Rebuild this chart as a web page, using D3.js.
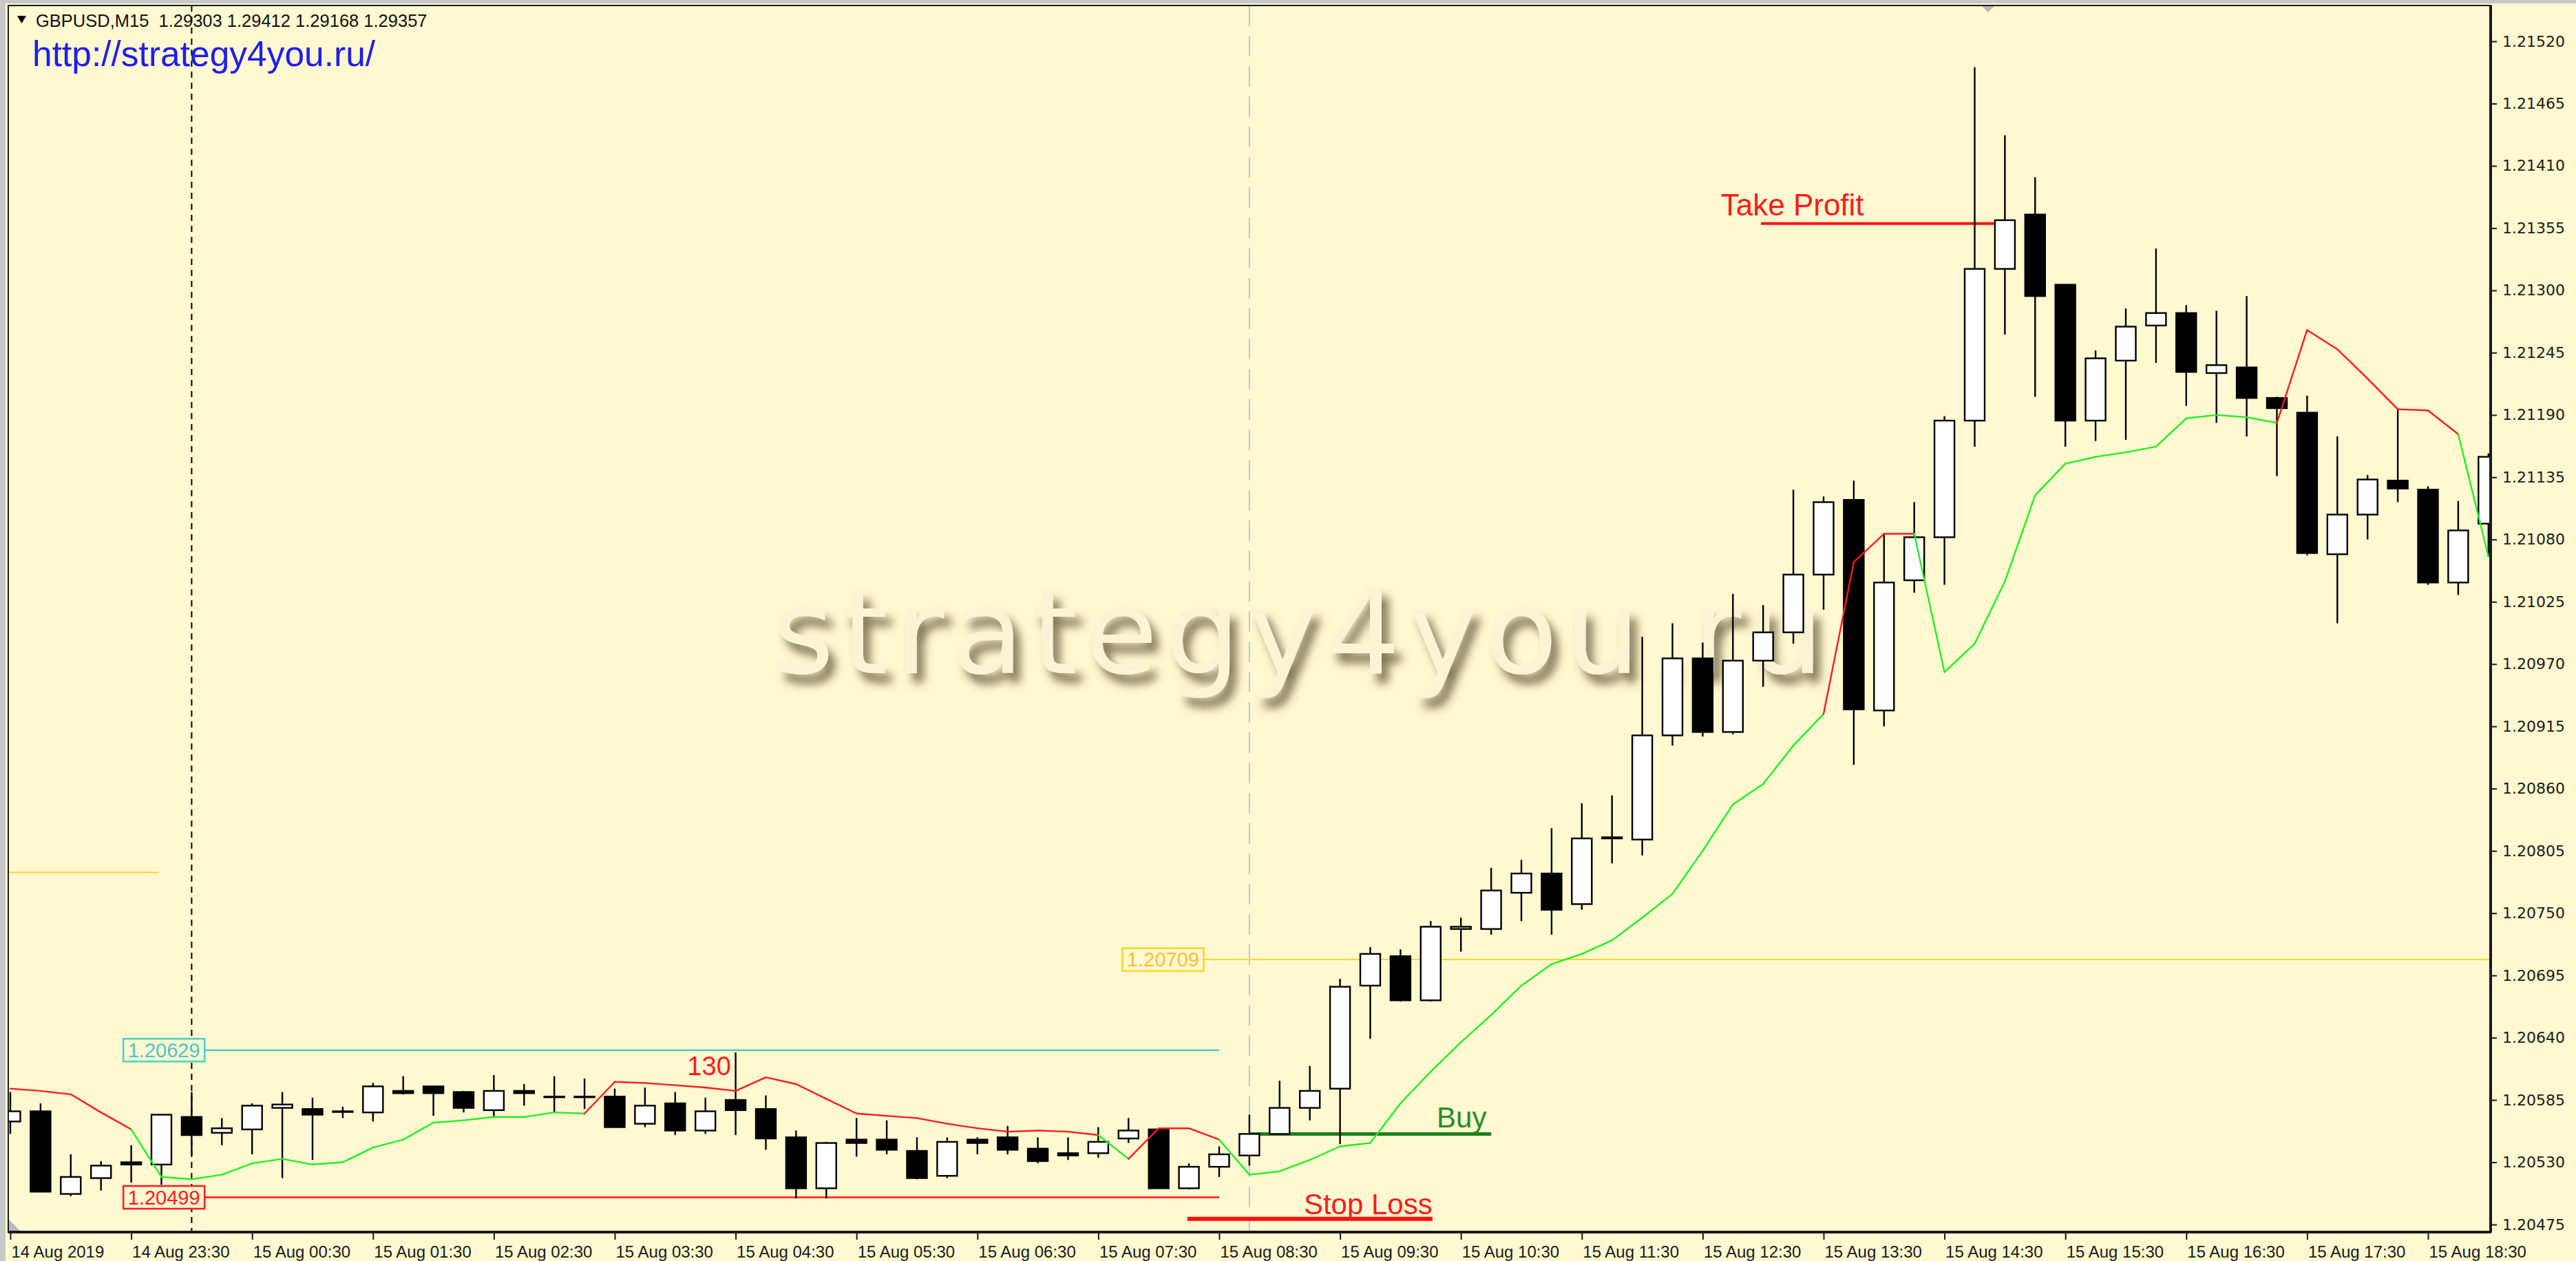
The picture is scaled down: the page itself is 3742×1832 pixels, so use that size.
<!DOCTYPE html>
<html><head><meta charset="utf-8">
<script src="https://cdn.jsdelivr.net/npm/d3@7"></script>
<style>html,body{margin:0;padding:0;background:#fff8d0;overflow:hidden}</style>
</head><body>
<svg id="c" width="3742" height="1832" xmlns="http://www.w3.org/2000/svg"></svg>
<script>
// ---------- DATA ----------
const symbolHeader = "GBPUSD,M15  1.29303 1.29412 1.29168 1.29357";
const siteLink = "http://strategy4you.ru/";
const watermark = "strategy4you.ru";

const openP = [1.20566,1.20575,1.20502,1.20516,1.20530,1.20528,1.20570,1.20556,1.20559,1.20578,
 1.20577,1.20575,1.20574,1.20593,1.20597,1.20592,1.20576,1.20593,1.20588,1.20588,
 1.20588,1.20564,1.20582,1.20558,1.20585,1.20577,1.20552,1.20507,1.20550,1.20550,
 1.20540,1.20518,1.20550,1.20552,1.20542,1.20538,1.20538,1.20551,1.20559,1.20507,
 1.20526,1.20536,1.20555,1.20578,1.20595,1.20686,1.20712,1.20673,1.20736,1.20736,
 1.20768,1.20785,1.20758,1.20816,1.20815,1.20907,1.20975,1.20910,1.20973,1.20998,
 1.21049,1.21115,1.20929,1.21044,1.21082,1.21185,1.21319,1.21367,1.21305,1.21185,
 1.21238,1.21269,1.21280,1.21227,1.21232,1.21205,1.21192,1.21067,1.21102,1.21132,
 1.21124,1.21042,1.21094];
const highP = [1.20592,1.20582,1.20537,1.20531,1.20545,1.20572,1.20592,1.20569,1.20582,1.20592,
 1.20587,1.20579,1.20600,1.20606,1.20597,1.20593,1.20607,1.20599,1.20606,1.20604,
 1.20595,1.20596,1.20592,1.20587,1.20627,1.20589,1.20558,1.20548,1.20569,1.20567,
 1.20552,1.20552,1.20552,1.20562,1.20552,1.20552,1.20561,1.20569,1.20560,1.20529,
 1.20544,1.20572,1.20602,1.20615,1.20692,1.20720,1.20718,1.20743,1.20746,1.20790,
 1.20797,1.20825,1.20847,1.20854,1.20994,1.21006,1.20989,1.21032,1.21022,1.21124,
 1.21118,1.21132,1.21085,1.21113,1.21189,1.21497,1.21437,1.21400,1.21305,1.21247,
 1.21284,1.21337,1.21287,1.21282,1.21295,1.21206,1.21207,1.21171,1.21137,1.21196,
 1.21127,1.21114,1.21156];
const lowP = [1.20555,1.20504,1.20500,1.20505,1.20512,1.20510,1.20536,1.20545,1.20537,1.20516,
 1.20532,1.20569,1.20566,1.20590,1.20571,1.20574,1.20570,1.20580,1.20574,1.20577,
 1.20561,1.20561,1.20554,1.20555,1.20554,1.20541,1.20498,1.20498,1.20535,1.20537,
 1.20515,1.20516,1.20537,1.20537,1.20529,1.20532,1.20534,1.20547,1.20507,1.20506,
 1.20517,1.20527,1.20554,1.20567,1.20546,1.20639,1.20672,1.20672,1.20716,1.20731,
 1.20743,1.20731,1.20753,1.20794,1.20801,1.20898,1.20906,1.20908,1.20950,1.20988,
 1.21018,1.20881,1.20915,1.21033,1.21040,1.21162,1.21261,1.21206,1.21162,1.21167,
 1.21168,1.21236,1.21198,1.21183,1.21171,1.21136,1.21066,1.21006,1.21080,1.21113,
 1.21040,1.21031,1.21065];
const closeP = [1.20575,1.20504,1.20517,1.20527,1.20528,1.20572,1.20554,1.20560,1.20580,1.20581,
 1.20572,1.20575,1.20597,1.20591,1.20591,1.20578,1.20593,1.20591,1.20588,1.20588,
 1.20561,1.20580,1.20558,1.20575,1.20576,1.20551,1.20507,1.20547,1.20547,1.20541,
 1.20516,1.20548,1.20547,1.20541,1.20531,1.20536,1.20548,1.20558,1.20507,1.20526,
 1.20537,1.20555,1.20578,1.20593,1.20685,1.20714,1.20673,1.20738,1.20738,1.20770,
 1.20785,1.20753,1.20816,1.20817,1.20907,1.20975,1.20910,1.20973,1.20998,1.21049,
 1.21113,1.20930,1.21042,1.21082,1.21185,1.21319,1.21362,1.21295,1.21185,1.21240,
 1.21268,1.21280,1.21228,1.21234,1.21205,1.21196,1.21068,1.21102,1.21133,1.21125,
 1.21042,1.21088,1.21153];

// trailing indicator line and its trend (1 = up / green, -1 = down / red)
const trendLine = [1.20595,1.20593,1.20590,1.20574,1.20559,1.20517,1.20515,1.20519,1.20529,1.20533,
 1.20528,1.20530,1.20543,1.20550,1.20565,1.20567,1.20570,1.20570,1.20574,1.20573,
 1.20601,1.20600,1.20598,1.20596,1.20593,1.20605,1.20599,1.20586,1.20573,1.20571,
 1.20569,1.20564,1.20560,1.20557,1.20558,1.20557,1.20554,1.20533,1.20560,1.20560,
 1.20550,1.20519,1.20522,1.20532,1.20544,1.20547,1.20582,1.20610,1.20636,1.20660,
 1.20686,1.20705,1.20714,1.20726,1.20746,1.20767,1.20805,1.20846,1.20864,1.20898,
 1.20926,1.21060,1.21085,1.21085,1.20963,1.20988,1.21043,1.21119,1.21147,1.21153,
 1.21157,1.21162,1.21187,1.21190,1.21188,1.21183,1.21265,1.21248,1.21222,1.21195,
 1.21194,1.21173,1.21065];
const trendDir = [-1,-1,-1,-1,-1,1,1,1,1,1, 1,1,1,1,1,1,1,1,1,1,
 -1,-1,-1,-1,-1,-1,-1,-1,-1,-1, -1,-1,-1,-1,-1,-1,-1,1,-1,-1,
 -1,1,1,1,1,1,1,1,1,1, 1,1,1,1,1,1,1,1,1,1,
 1,-1,-1,-1,1,1,1,1,1,1, 1,1,1,1,1,1,-1,-1,-1,-1,
 -1,-1,1];

const xTickLabels = ["14 Aug 2019","14 Aug 23:30","15 Aug 00:30","15 Aug 01:30","15 Aug 02:30",
 "15 Aug 03:30","15 Aug 04:30","15 Aug 05:30","15 Aug 06:30","15 Aug 07:30","15 Aug 08:30",
 "15 Aug 09:30","15 Aug 10:30","15 Aug 11:30","15 Aug 12:30","15 Aug 13:30","15 Aug 14:30",
 "15 Aug 15:30","15 Aug 16:30","15 Aug 17:30","15 Aug 18:30"];
const xTickBars = [0,4,8,12,16,20,24,28,32,36,40,44,48,52,56,60,64,68,72,76,80];
const yTickLabels = ["1.20475","1.20530","1.20585","1.20640","1.20695","1.20750","1.20805","1.20860",
 "1.20915","1.20970","1.21025","1.21080","1.21135","1.21190","1.21245","1.21300","1.21355",
 "1.21410","1.21465","1.21520"];

// chart objects: price levels with anchors in bar units
const levelPrices = [1.20629, 1.20499, 1.20709, 1.20786, 1.20555, 1.20480, 1.21359];
const levelNames  = ["cyan", "red", "gold", "goldShort", "buy", "stop", "tp"];
const levelFrom   = [3.74, 3.74, 36.8, -0.1, 41, 38.95, 57.93];
const levelTo     = [40, 40, 83, 4.92, 49.0, 47.06, 66.0];
const noteTexts  = ["Take Profit", "Buy", "Stop Loss", "130"];
const noteBars   = [56.6, 47.2, 42.8, 22.4];
const notePrices = [1.21366, 1.20561, 1.20484, 1.20607];
const vLineBars = [6, 41];

// ---------- LAYOUT ----------
const W = 3742, H = 1832;
const plot = {l: 12, t: 8, r: 3618, b: 1790};
const svg = d3.select("#c");
const bg = "#fff8d0";

const x = d3.scaleLinear().domain([0, 82]).range([15, 3614.8]);
const y = d3.scaleLinear().domain([1.20475, 1.21520]).range([1779, 60]);

const defs = svg.append("defs");
defs.append("clipPath").attr("id","plotClip").append("rect")
  .attr("x", plot.l).attr("y", plot.t).attr("width", plot.r-plot.l).attr("height", plot.b-plot.t);
const f = defs.append("filter").attr("id","wm").attr("x","-5%").attr("y","-30%").attr("width","115%").attr("height","170%");
f.append("feGaussianBlur").attr("in","SourceAlpha").attr("stdDeviation",7).attr("result","b");
f.append("feOffset").attr("in","b").attr("dx",10).attr("dy",14).attr("result","o");
f.append("feFlood").attr("flood-color","#5e5638").attr("flood-opacity",0.8);
f.append("feComposite").attr("in2","o").attr("operator","in").attr("result","s");
const fm = f.append("feMerge");
fm.append("feMergeNode").attr("in","s");
fm.append("feMergeNode").attr("in","SourceGraphic");

svg.append("rect").attr("width",W).attr("height",H).attr("fill",bg);
// window frame
svg.append("rect").attr("x",0).attr("y",0).attr("width",W).attr("height",5).attr("fill","#c8c8c8");
svg.append("rect").attr("x",0).attr("y",0).attr("width",8).attr("height",H).attr("fill","#c8c8c8");

const g = svg.append("g").attr("clip-path","url(#plotClip)");

// watermark
g.append("text").attr("x", 1122).attr("y", 978)
  .attr("font-family","DejaVu Sans, Verdana, sans-serif").attr("font-size",172)
  .attr("textLength",1527).attr("lengthAdjust","spacing")
  .attr("fill","#fbf4d4").attr("filter","url(#wm)").text(watermark);

// vertical lines
g.append("line").attr("x1",x(vLineBars[0])).attr("x2",x(vLineBars[0])).attr("y1",plot.t).attr("y2",plot.b)
  .attr("stroke","#000").attr("stroke-width",2).attr("stroke-dasharray","9,7");
g.append("line").attr("x1",x(vLineBars[1])).attr("x2",x(vLineBars[1])).attr("y1",plot.t).attr("y2",plot.b)
  .attr("stroke","#c8c8c8").attr("stroke-width",2).attr("stroke-dasharray","30,14");

// levels
const lvlStyle = {
  cyan:{c:"#48d0c8", w:2.5, box:true, tc:"#48c8c0"},
  red:{c:"#ff1a1a", w:2.5, box:true, tc:"#ff1a1a"},
  gold:{c:"#ffd42a", w:2, box:true, tc:"#f5c030"},
  goldShort:{c:"#ffd42a", w:2, box:false},
  buy:{c:"#1a7f1a", w:5, box:false},
  stop:{c:"#ff1010", w:6, box:false},
  tp:{c:"#ff1010", w:4, box:false}
};
levelPrices.forEach((p,i)=>{
  const s = lvlStyle[levelNames[i]];
  const yy = y(p);
  let x0 = x(levelFrom[i]);
  const x1 = Math.min(x(levelTo[i]), plot.r);
  if (s.box) {
    const bw = 118, bh = 33;
    svg.append("rect").attr("x",x0).attr("y",yy-bh/2).attr("width",bw).attr("height",bh)
      .attr("fill",bg).attr("stroke",s.c).attr("stroke-width",2.5);
    svg.append("text").attr("x",x0+bw/2).attr("y",yy+10).attr("text-anchor","middle")
      .attr("font-family","Liberation Sans, Arial, sans-serif").attr("font-size",29)
      .attr("fill",s.tc).text(p.toFixed(5));
    x0 += bw;
  }
  g.append("line").attr("x1",x0).attr("x2",x1).attr("y1",yy).attr("y2",yy)
    .attr("stroke",s.c).attr("stroke-width",s.w);
});

// candles
const bars = d3.range(openP.length).map(i=>({i, o:openP[i], h:highP[i], l:lowP[i], c:closeP[i]}));
const bodyW = 29;
const cg = g.append("g");
cg.selectAll("line.wick").data(bars).join("line").attr("class","wick")
  .attr("x1",d=>x(d.i)).attr("x2",d=>x(d.i)).attr("y1",d=>y(d.h)).attr("y2",d=>y(d.l))
  .attr("stroke","#000").attr("stroke-width",2.4);
cg.selectAll("rect.body").data(bars).join("rect").attr("class","body")
  .attr("x",d=>x(d.i)-bodyW/2).attr("width",bodyW)
  .attr("y",d=>y(Math.max(d.o,d.c)))
  .attr("height",d=>Math.max(1, y(Math.min(d.o,d.c))-y(Math.max(d.o,d.c))))
  .attr("fill",d=>d.c>=d.o?"#ffffff":"#000000")
  .attr("stroke","#000").attr("stroke-width",2.4);

// trend indicator line
const lg = g.append("g");
for (let i=1;i<trendLine.length;i++){
  lg.append("line").attr("x1",x(i-1)).attr("y1",y(trendLine[i-1])).attr("x2",x(i)).attr("y2",y(trendLine[i]))
    .attr("stroke", trendDir[i]>0 ? "#22ee22" : "#ff1a1a").attr("stroke-width",2.4).attr("stroke-linecap","round");
}

// notes
const noteColors = ["#ff1a1a","#2a8a2a","#ff1a1a","#ff1a1a"];
const noteSizes = [44, 42, 42, 38];
noteTexts.forEach((t,i)=>{
  svg.append("text").attr("x",x(noteBars[i])).attr("y",y(notePrices[i]))
    .attr("font-family","Liberation Sans, Arial, sans-serif").attr("font-size",noteSizes[i])
    .attr("fill",noteColors[i]).text(t);
});

// small markers
svg.append("path").attr("d",`M${plot.l+1},${plot.b-18} L${plot.l+1},${plot.b-1} L${plot.l+18},${plot.b-1} Z`).attr("fill","#b8b8c0");
svg.append("path").attr("d",`M2878,${plot.t} L2898,${plot.t} L2888,${plot.t+10} Z`).attr("fill","#b8b8c0");

// plot border
svg.append("rect").attr("x",plot.l).attr("y",plot.t).attr("width",plot.r-plot.l).attr("height",plot.b-plot.t)
  .attr("fill","none").attr("stroke","#1a1a1a").attr("stroke-width",2);

// axes
const yAxis = d3.axisRight(y).tickValues(yTickLabels.map(Number)).tickFormat((d,i)=>yTickLabels[i]).tickSize(9).tickPadding(8);
const ya = svg.append("g").attr("transform",`translate(${plot.r},0)`).call(yAxis);
ya.select(".domain").attr("stroke","#1a1a1a").attr("stroke-width",4).attr("d",`M0,${plot.t}V${plot.b+1}`);
ya.selectAll(".tick line").attr("stroke","#1a1a1a").attr("stroke-width",2);
ya.selectAll(".tick text").attr("font-family","DejaVu Sans, Verdana, sans-serif").attr("font-size",22).attr("fill","#1a1a1a");

const xAxis = d3.axisBottom(x).tickValues(xTickBars).tickFormat((d,i)=>xTickLabels[i]).tickSize(11).tickPadding(4);
const xa = svg.append("g").attr("transform",`translate(0,${plot.b})`).call(xAxis);
xa.select(".domain").attr("stroke","#1a1a1a").attr("stroke-width",4).attr("d",`M${plot.l},0H${plot.r}`);
xa.selectAll(".tick line").attr("stroke","#1a1a1a").attr("stroke-width",2);
xa.selectAll(".tick text").attr("font-family","Liberation Sans, Arial, sans-serif").attr("font-size",24)
  .attr("fill","#1a1a1a").attr("text-anchor","start").attr("x",1).attr("dy","0.9em");

// header
svg.append("path").attr("d","M25,23 L38,23 L31.5,34 Z").attr("fill","#000");
svg.append("text").attr("x",52).attr("y",39).attr("font-family","Liberation Sans, Arial, sans-serif")
  .attr("font-size",25.5).attr("fill","#111").attr("xml:space","preserve").style("white-space","pre").text(symbolHeader);
svg.append("text").attr("x",47).attr("y",96).attr("font-family","Liberation Sans, Arial, sans-serif")
  .attr("font-size",51.5).attr("fill","#1e1ef0").text(siteLink);
</script>
</body></html>
